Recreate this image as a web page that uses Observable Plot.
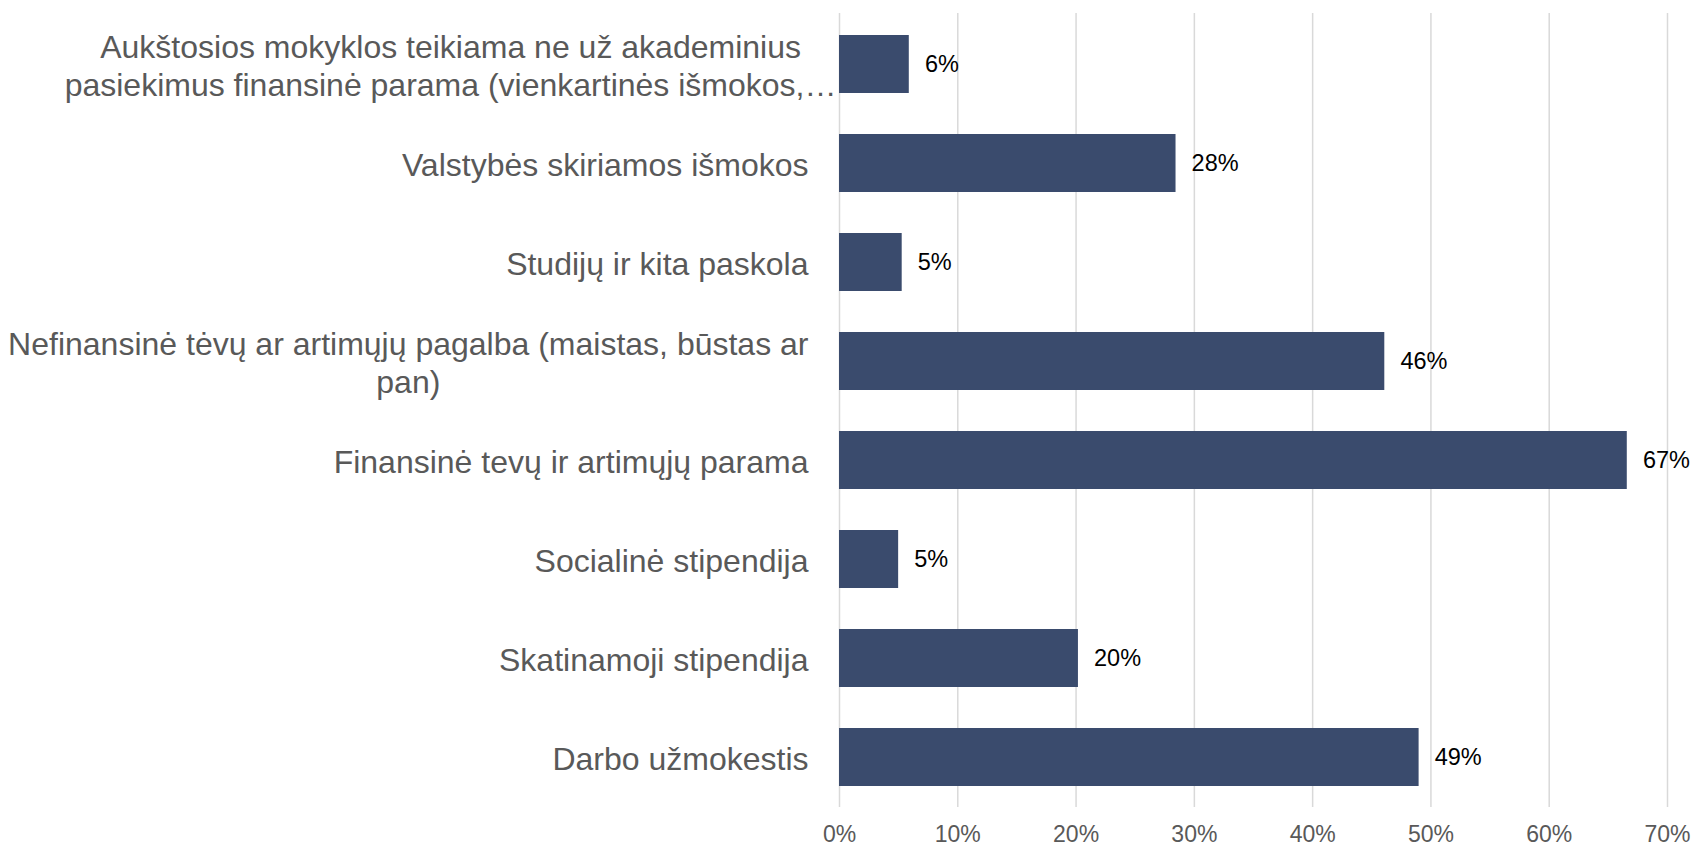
<!DOCTYPE html>
<html>
<head>
<meta charset="utf-8">
<script src="https://cdn.jsdelivr.net/npm/d3@7"></script>
<script src="https://cdn.jsdelivr.net/npm/@observablehq/plot@0.6"></script>
<style>
  html, body { margin: 0; padding: 0; background: #ffffff; }
  #chart { width: 1696px; height: 848px; }
</style>
</head>
<body>
<div id="chart"></div>
<script>
// Categories, top to bottom
const categories = [
  "Aukštosios mokyklos teikiama ne už akademinius\npasiekimus finansinė parama (vienkartinės išmokos,…",
  "Valstybės skiriamos išmokos",
  "Studijų ir kita paskola",
  "Nefinansinė tėvų ar artimųjų pagalba (maistas, būstas ar\npan)",
  "Finansinė tevų ir artimųjų parama",
  "Socialinė stipendija",
  "Skatinamoji stipendija",
  "Darbo užmokestis"
];
// Share of respondents, %
const values = [5.9, 28.45, 5.3, 46.1, 66.6, 5.0, 20.2, 49.0];
// Axis ticks, %
const xTicks = [0, 10, 20, 30, 40, 50, 60, 70];

const data = categories.map((c, i) => ({category: c, value: values[i]}));

const FONT = "'Liberation Sans', Arial, sans-serif";
const BAR = "#3a4b6d";

const chart = Plot.plot({
  width: 1696,
  height: 848,
  marginLeft: 839,
  marginRight: 29,
  marginTop: 13,
  marginBottom: 41,
  style: {fontFamily: FONT, background: "#ffffff"},
  x: {domain: [0, 70], ticks: xTicks, tickFormat: d => d + "%"},
  y: {domain: categories, paddingInner: 0.416, paddingOuter: 0.208, label: null},
  marks: [
    Plot.gridX(xTicks, {stroke: "#d9d9d9", strokeOpacity: 1, strokeWidth: 1.5}),
    Plot.barX(data, {x: "value", y: "category", fill: BAR}),
    Plot.text(data, {
      x: "value", y: "category",
      text: d => Math.round(d.value) + "%",
      textAnchor: "start", dx: 15.6, fontSize: 23.5, fill: "#000000"
    }),
    Plot.axisX(xTicks, {
      tickSize: 0, tickPadding: 18.5, fontSize: 23, color: "#595959",
      tickFormat: d => d + "%", label: null
    }),
    Plot.axisY({
      tickSize: 0, tickPadding: 31, fontSize: 32, color: "#595959",
      lineHeight: 1.2, label: null
    })
  ]
});

document.getElementById("chart").appendChild(chart);

// Center multi-line category labels within their right-aligned block (like Excel);
// a truncated label (ending in "…") overflows toward the axis as in the original.
chart.querySelectorAll('g[aria-label="y-axis tick label"] text').forEach(t => {
  const spans = t.querySelectorAll("tspan");
  if (spans.length < 2) return;
  const widths = Array.from(spans, s => s.getComputedTextLength());
  const maxW = Math.max(...widths);
  const overflow = t.textContent.endsWith("…") ? 28 : 0;
  spans.forEach((s, i) => s.setAttribute("x", -(maxW - widths[i]) / 2 + overflow));
});
</script>
</body>
</html>
